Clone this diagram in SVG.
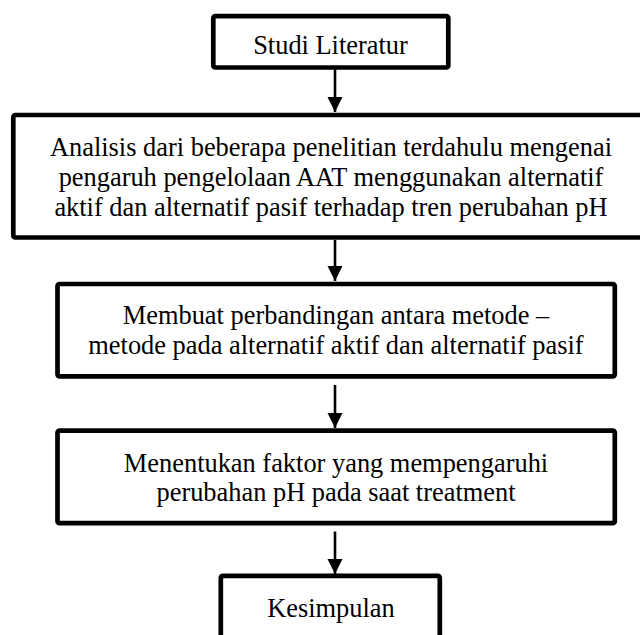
<svg xmlns="http://www.w3.org/2000/svg" width="640" height="635" viewBox="0 0 640 635">
  <style>
    .box { fill: #ffffff; stroke: #000000; stroke-width: 4.7; stroke-linejoin: round; }
    .lbl { font-family: "Liberation Serif", "Times New Roman", serif; font-size: 26.4px; fill: #000000; text-anchor: middle; }
    .conn { stroke: #000000; stroke-width: 2.6; fill: none; }
  </style>
  <defs>
    <marker id="arrow" markerUnits="userSpaceOnUse" markerWidth="15" markerHeight="16" refX="15" refY="8" orient="auto">
      <path d="M0,0.5 L15,8 L0,15.5 z" fill="#000000"/>
    </marker>
  </defs>
  <rect x="0" y="0" width="640" height="635" fill="#ffffff"/>

  <g id="connectors">
    <line class="conn" x1="335" y1="69" x2="335" y2="112" marker-end="url(#arrow)"/>
    <line class="conn" x1="335" y1="240" x2="335" y2="281" marker-end="url(#arrow)"/>
    <line class="conn" x1="335" y1="385" x2="335" y2="428" marker-end="url(#arrow)"/>
    <line class="conn" x1="335" y1="531.5" x2="335" y2="574" marker-end="url(#arrow)"/>
  </g>

  <g id="node-studi-literatur">
    <rect class="box" x="213.3" y="16.2" width="235" height="51.3" rx="2"/>
    <text class="lbl" x="330.5" y="54.3">Studi Literatur</text>
  </g>

  <g id="node-analisis">
    <rect class="box" x="13.3" y="115" width="640" height="122.5" rx="2"/>
    <text class="lbl" x="331" y="155.5">Analisis dari beberapa penelitian terdahulu mengenai</text>
    <text class="lbl" x="331" y="186">pengaruh pengelolaan AAT menggunakan alternatif</text>
    <text class="lbl" x="331" y="216">aktif dan alternatif pasif terhadap tren perubahan pH</text>
  </g>

  <g id="node-perbandingan">
    <rect class="box" x="57.5" y="284" width="557.3" height="92.3" rx="2"/>
    <text class="lbl" x="336" y="324">Membuat perbandingan antara metode –</text>
    <text class="lbl" x="336" y="354">metode pada alternatif aktif dan alternatif pasif</text>
  </g>

  <g id="node-faktor">
    <rect class="box" x="57.5" y="430.7" width="557.3" height="92.5" rx="2"/>
    <text class="lbl" x="336" y="471.7">Menentukan faktor yang mempengaruhi</text>
    <text class="lbl" x="336" y="500.7">perubahan pH pada saat treatment</text>
  </g>

  <g id="node-kesimpulan">
    <rect class="box" x="220.8" y="575.8" width="219" height="100" rx="2"/>
    <text class="lbl" x="331" y="617.3">Kesimpulan</text>
  </g>
</svg>
